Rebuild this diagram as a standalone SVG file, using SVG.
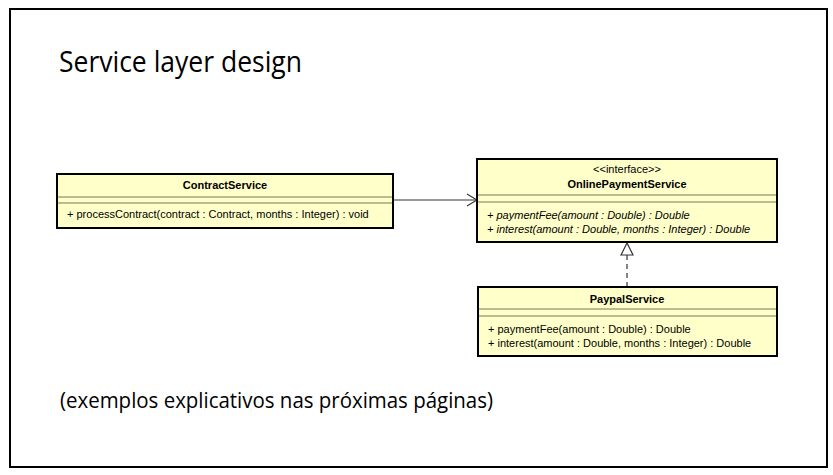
<svg xmlns="http://www.w3.org/2000/svg" width="833" height="475" viewBox="0 0 833 475">
<defs>
<style>
.box{fill:#FFFFCA;stroke:#000;stroke-width:2}
.div{stroke:#7A7A58;stroke-width:1.2}
.t{font-family:"Liberation Sans",Arial,sans-serif;font-size:11px;fill:#000}
.b{font-weight:bold;text-anchor:middle}
.c{text-anchor:middle}
.i{font-style:italic}
.big{font-family:"Open Sans","Noto Sans",sans-serif;fill:#000}
.conn{stroke:#333;stroke-width:1.2;fill:none}
</style>
<marker id="open" viewBox="0 0 12 14" refX="11" refY="7" markerWidth="12" markerHeight="14" markerUnits="userSpaceOnUse" orient="auto">
<path d="M1,1 L11,7 L1,13" fill="none" stroke="#333" stroke-width="1.2"/>
</marker>
<marker id="tri" viewBox="0 0 14 14" refX="13" refY="7" markerWidth="14" markerHeight="14" markerUnits="userSpaceOnUse" orient="auto">
<path d="M1,1 L13,7 L1,13 Z" fill="#fff" stroke="#333" stroke-width="1.2"/>
</marker>
</defs>
<rect x="0" y="0" width="833" height="475" fill="#fff"/>
<rect x="10" y="9" width="817" height="458" fill="#fff" stroke="#000" stroke-width="2"/>
<text class="big" x="59" y="72" font-size="29" textLength="243" lengthAdjust="spacingAndGlyphs">Service layer design</text>
<text class="big" x="60" y="408" font-size="22" textLength="433" lengthAdjust="spacingAndGlyphs">(exemplos explicativos nas próximas páginas)</text>

<g id="connectors">
<line class="conn" x1="393" y1="200" x2="477" y2="200" marker-end="url(#open)"/>
<line class="conn" x1="627" y1="287" x2="627" y2="243" stroke-dasharray="5,4" marker-end="url(#tri)"/>
</g>

<g id="ContractService">
<rect class="box" x="57" y="174" width="336" height="54"/>
<line class="div" x1="58" y1="197" x2="392" y2="197"/>
<line class="div" x1="58" y1="203" x2="392" y2="203"/>
<text class="t b" x="225" y="189">ContractService</text>
<text class="t" x="67" y="218">+ processContract(contract : Contract, months : Integer) : void</text>
</g>

<g id="OnlinePaymentService">
<rect class="box" x="477" y="159" width="300" height="83"/>
<line class="div" x1="478" y1="195" x2="776" y2="195"/>
<line class="div" x1="478" y1="202" x2="776" y2="202"/>
<text class="t c" x="627" y="173">&lt;&lt;interface&gt;&gt;</text>
<text class="t b" x="627" y="188">OnlinePaymentService</text>
<text class="t i" x="487" y="219">+ paymentFee(amount : Double) : Double</text>
<text class="t i" x="487" y="233">+ interest(amount : Double, months : Integer) : Double</text>
</g>

<g id="PaypalService">
<rect class="box" x="478" y="287" width="299" height="69"/>
<line class="div" x1="479" y1="309" x2="776" y2="309"/>
<line class="div" x1="479" y1="316" x2="776" y2="316"/>
<text class="t b" x="627" y="303">PaypalService</text>
<text class="t" x="488" y="333">+ paymentFee(amount : Double) : Double</text>
<text class="t" x="488" y="347">+ interest(amount : Double, months : Integer) : Double</text>
</g>
</svg>
